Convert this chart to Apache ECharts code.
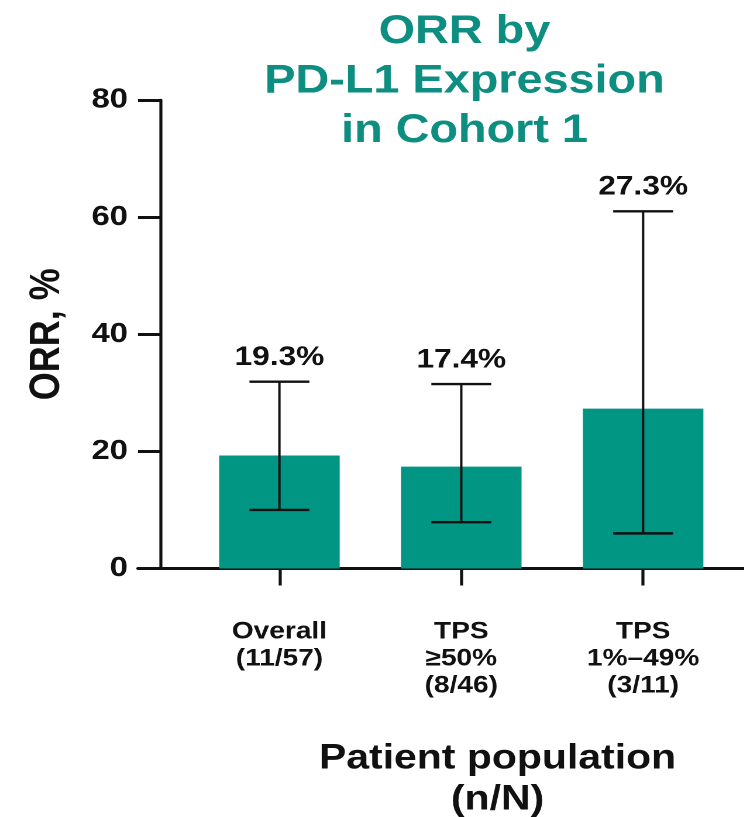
<!DOCTYPE html>
<html>
<head>
<meta charset="utf-8">
<script src="https://cdn.jsdelivr.net/npm/echarts@6/dist/echarts.min.js"></script>
<style>
html,body{margin:0;padding:0;background:#fff;overflow:hidden;}
#wrap{width:744px;height:817px;overflow:hidden;position:relative;}
#chart{width:636px;height:817px;transform:scaleX(1.17);transform-origin:0 0;}
</style>
</head>
<body>
<div id="wrap"><div id="chart"></div></div>
<script>
// ---- data ----
const categories = ['Overall\n(11/57)', 'TPS\n≥50%\n(8/46)', 'TPS\n1%–49%\n(3/11)'];
const orrValues = [19.3, 17.4, 27.3];
const ciLow = [10.0, 7.9, 6.0];
const ciHigh = [31.9, 31.5, 61.0];
const valueLabels = ['19.3%', '17.4%', '27.3%'];
const yTicks = [0, 20, 40, 60, 80];

const FONT = 'Arial, "Liberation Sans", Helvetica, sans-serif';
const TEAL = '#009683';
const TITLE_TEAL = '#0e8e80';
const INK = '#111111';

const chart = echarts.init(document.getElementById('chart'), null, {devicePixelRatio: 2});

const errorData = categories.map((c, i) => [i, ciLow[i], ciHigh[i], valueLabels[i]]);

chart.setOption({
  animation: false,
  backgroundColor: '#ffffff',
  title: {
    text: 'ORR by\nPD-L1 Expression\nin Cohort 1',
    left: 392, top: 2,
    textAlign: 'center',
    textStyle: {color: TITLE_TEAL, fontSize: 40, fontWeight: 'bold', fontFamily: FONT, lineHeight: 49.5}
  },
  grid: [
    {left: 161.1, right: 8.6, top: 100, bottom: 248.5, outerBoundsMode: 'none', containLabel: false},
    {left: 118, right: 0, top: 100, bottom: 248.5, outerBoundsMode: 'none', containLabel: false}
  ],
  xAxis: [
    {
      type: 'category', gridIndex: 0, data: categories,
      axisLine: {show: false},
      axisTick: {show: true, alignWithLabel: true, length: 17, lineStyle: {color: INK, width: 2.6}},
      axisLabel: {margin: 50, color: INK, fontSize: 24, fontWeight: 'bold', fontFamily: FONT, lineHeight: 27, interval: 0},
      name: 'Patient population\n(n/N)',
      nameLocation: 'middle', nameGap: 170,
      nameTextStyle: {color: INK, fontSize: 35, fontWeight: 'bold', fontFamily: FONT, lineHeight: 41, padding: [0, 0, 0, 62]}
    },
    {
      type: 'value', gridIndex: 1, min: 0, max: 1,
      axisLine: {show: true, onZero: false, lineStyle: {color: INK, width: 3}},
      axisTick: {show: false}, axisLabel: {show: false}, splitLine: {show: false}
    }
  ],
  yAxis: [
    {
      type: 'value', gridIndex: 0, min: yTicks[0], max: yTicks[yTicks.length - 1], interval: 20,
      offset: 24.35,
      axisLine: {show: true, lineStyle: {color: INK, width: 2.6}},
      axisTick: {show: true, length: 18.8, lineStyle: {color: INK, width: 3}},
      axisLabel: {margin: 27.4, color: INK, fontSize: 28, fontWeight: 'bold', fontFamily: FONT},
      splitLine: {show: false},
      name: 'ORR, %', nameLocation: 'middle', nameGap: 78, nameRotate: 90,
      nameTextStyle: {color: INK, fontSize: 36, fontWeight: 'bold', fontFamily: FONT}
    },
    {
      type: 'value', gridIndex: 1, min: 0, max: 1, show: false
    }
  ],
  series: [
    {
      type: 'bar', xAxisIndex: 0, yAxisIndex: 0,
      data: orrValues,
      barWidth: 103,
      itemStyle: {color: TEAL},
      z: 2
    },
    {
      type: 'custom', xAxisIndex: 0, yAxisIndex: 0,
      data: errorData,
      clip: false,
      z: 5,
      renderItem: function (params, api) {
        const i = api.value(0);
        const lo = api.coord([i, api.value(1)]);
        const hi = api.coord([i, api.value(2)]);
        const half = 25.6;
        const st = {stroke: INK, lineWidth: 2.4};
        return {
          type: 'group',
          children: [
            {type: 'line', shape: {x1: hi[0], y1: hi[1], x2: lo[0], y2: lo[1]}, style: {stroke: INK, lineWidth: 2}},
            {type: 'line', shape: {x1: hi[0] - half, y1: hi[1], x2: hi[0] + half, y2: hi[1]}, style: st},
            {type: 'line', shape: {x1: lo[0] - half, y1: lo[1], x2: lo[0] + half, y2: lo[1]}, style: st},
            {type: 'text', style: {
              text: errorData[params.dataIndex][3],
              x: hi[0], y: hi[1] - 24,
              align: 'center', verticalAlign: 'middle',
              fontSize: 27, fontWeight: 'bold', fontFamily: FONT, fill: INK
            }}
          ]
        };
      }
    }
  ]
});
</script>
</body>
</html>
